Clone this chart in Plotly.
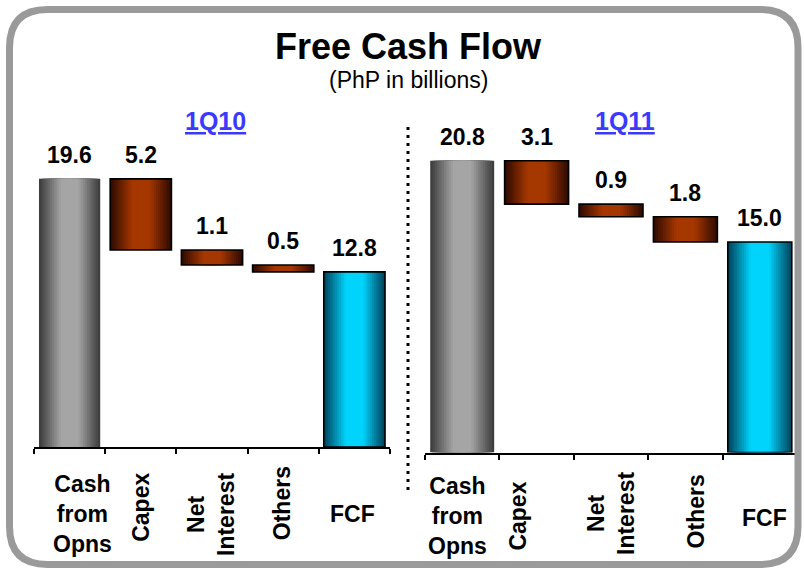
import plotly.graph_objects as go

# ---------------- data ----------------
categories = ["Cash from Opns", "Capex", "Net Interest", "Others", "FCF"]
tick_labels = ["Cash<br>from<br>Opns", "Capex", "Net<br>Interest", "Others", "FCF"]
kinds = ["total", "decrease", "decrease", "decrease", "total"]
values_1q10 = [19.6, 5.2, 1.1, 0.5, 12.8]
values_1q11 = [20.8, 3.1, 0.9, 1.8, 15.0]
period_labels = ["1Q10", "1Q11"]
title_text = "Free Cash Flow"
subtitle_text = "(PhP in billions)"

# ---------------- styling ----------------
W, H = 804, 572
FONT = "Arial, Liberation Sans, Helvetica, sans-serif"
N_LAYERS = 14
BAR_W = 0.86
palette = {
    "gray": ((62, 62, 62), (165, 165, 165)),
    "brown": ((50, 12, 0), (165, 55, 0)),
    "cyan": ((0, 70, 95), (0, 212, 252)),
}
color_keys = ["gray", "brown", "brown", "brown", "cyan"]
outlined = [False, True, True, True, True]


def py(ypx):
    return 1 - ypx / H


def px(xpx):
    return xpx / W


def mix(c1, c2, t):
    return "rgb(%d,%d,%d)" % tuple(round(a + (b - a) * t) for a, b in zip(c1, c2))


def waterfall(values):
    bases, heights, running = [], [], 0.0
    for v, k in zip(values, kinds):
        if k == "total":
            bases.append(0.0)
            heights.append(v)
            running = v
        else:
            running -= v
            bases.append(running)
            heights.append(v)
    return bases, heights


# panel geometry (pixels)
panels = [
    dict(vals=values_1q10, xa="x", ya="y", x0=34, x1=390, ybase=447, ppu=13.68,
         shifts=[13, 0, -1, -1, -2], ycent=[514, 507, 515, 503, 514],
         plabel_x=215.5),
    dict(vals=values_1q11, xa="x2", ya="y2", x0=425, x1=797, ybase=452.5, ppu=14.03,
         shifts=[-5, -19, 0, 11, 5], ycent=[516, 516, 514, 511, 518],
         plabel_x=624.5),
]
YMAX = 22.0

fig = go.Figure()
annotations = []

for p, plabel in zip(panels, period_labels):
    bases, heights = waterfall(p["vals"])
    xs = list(range(len(categories)))
    # gradient layers (outer -> inner)
    for k in range(N_LAYERS):
        s = k / (N_LAYERS - 1)
        t = min(1.0, s * 1.35)
        w = BAR_W * (1 - k / N_LAYERS)
        cols = [mix(palette[c][0], palette[c][1], t) for c in color_keys]
        fig.add_trace(go.Bar(x=xs, y=heights, base=bases, width=w,
                             marker=dict(color=cols, line=dict(width=0)),
                             xaxis=p["xa"], yaxis=p["ya"], hoverinfo="skip"))
    # outlines
    fig.add_trace(go.Bar(x=xs, y=heights, base=bases, width=BAR_W,
                         marker=dict(color="rgba(0,0,0,0)",
                                     line=dict(width=[1.6 if o else 0 for o in outlined],
                                               color="black")),
                         xaxis=p["xa"], yaxis=p["ya"], hoverinfo="skip"))
    # value labels
    for i, (b, h, v) in enumerate(zip(bases, heights, p["vals"])):
        annotations.append(dict(x=i, y=b + h, xref=p["xa"], yref=p["ya"],
                                text="<b>%.1f</b>" % v, showarrow=False,
                                yanchor="bottom", yshift=9,
                                font=dict(family=FONT, size=23, color="black")))
    # category labels
    for i, lab in enumerate(tick_labels):
        ang = 0 if kinds[i] == "total" else -90
        annotations.append(dict(x=i, y=py(p["ycent"][i]), xref=p["xa"], yref="paper",
                                text="<b>%s</b>" % lab, showarrow=False,
                                textangle=ang, xanchor="center", yanchor="middle",
                                xshift=p["shifts"][i], align="center",
                                font=dict(family=FONT, size=23, color="black")))
    # period label
    annotations.append(dict(x=px(p["plabel_x"]), y=py(121), xref="paper", yref="paper",
                            text="<b><u>%s</u></b>" % plabel, showarrow=False,
                            xanchor="center", yanchor="middle",
                            font=dict(family=FONT, size=25, color="#3a3aff")))

# title / subtitle
annotations.append(dict(x=px(408.5), y=py(46), xref="paper", yref="paper",
                        text="<b>%s</b>" % title_text, showarrow=False,
                        xanchor="center", yanchor="middle",
                        font=dict(family=FONT, size=36, color="black")))
annotations.append(dict(x=px(408), y=py(80), xref="paper", yref="paper",
                        text=subtitle_text, showarrow=False,
                        xanchor="center", yanchor="middle",
                        font=dict(family=FONT, size=23, color="black")))


def xaxis_cfg(p):
    return dict(domain=[px(p["x0"]), px(p["x1"])], range=[-0.5, 4.5],
                showgrid=False, zeroline=False, showline=True, linecolor="black",
                linewidth=2, ticks="outside", tickvals=[-0.5, 0.5, 1.5, 2.5, 3.5, 4.5],
                ticklen=5, tickwidth=2, tickcolor="black", showticklabels=False,
                fixedrange=True)


def yaxis_cfg(p):
    top = p["ybase"] - YMAX * p["ppu"]
    return dict(domain=[py(p["ybase"]), py(top)], range=[0, YMAX], visible=False,
                showgrid=False, zeroline=False, fixedrange=True)


lx, rx = xaxis_cfg(panels[0]), xaxis_cfg(panels[1])
ly, ry = yaxis_cfg(panels[0]), yaxis_cfg(panels[1])
rx["anchor"] = "y2"
ry["anchor"] = "x2"
lx["anchor"] = "y"
ly["anchor"] = "x"

# rounded border + dotted separator
x0, y0, x1, y1, r = 9.5, 9.5, 798, 564.5, 38
path = ("M %f,%f L %f,%f Q %f,%f %f,%f L %f,%f Q %f,%f %f,%f L %f,%f Q %f,%f %f,%f "
        "L %f,%f Q %f,%f %f,%f Z") % (
    px(x0 + r), py(y0), px(x1 - r), py(y0), px(x1), py(y0), px(x1), py(y0 + r),
    px(x1), py(y1 - r), px(x1), py(y1), px(x1 - r), py(y1),
    px(x0 + r), py(y1), px(x0), py(y1), px(x0), py(y1 - r),
    px(x0), py(y0 + r), px(x0), py(y0), px(x0 + r), py(y0))
shapes = [
    dict(type="path", path=path, xref="paper", yref="paper",
         line=dict(color="#9a9a9a", width=7), fillcolor="rgba(0,0,0,0)", layer="above"),
    dict(type="line", xref="paper", yref="paper", x0=px(408), x1=px(408),
         y0=py(127), y1=py(491), line=dict(color="black", width=3, dash="3px,5px")),
]

fig.update_layout(
    width=W, height=H, margin=dict(l=0, r=0, t=0, b=0, pad=0),
    paper_bgcolor="white", plot_bgcolor="white", showlegend=False,
    barmode="overlay", xaxis=lx, yaxis=ly, xaxis2=rx, yaxis2=ry,
    annotations=annotations, shapes=shapes,
)

fig.write_html("out.html", config={"displayModeBar": False},
               post_script="document.body.style.margin='0';document.body.style.overflow='hidden';")
